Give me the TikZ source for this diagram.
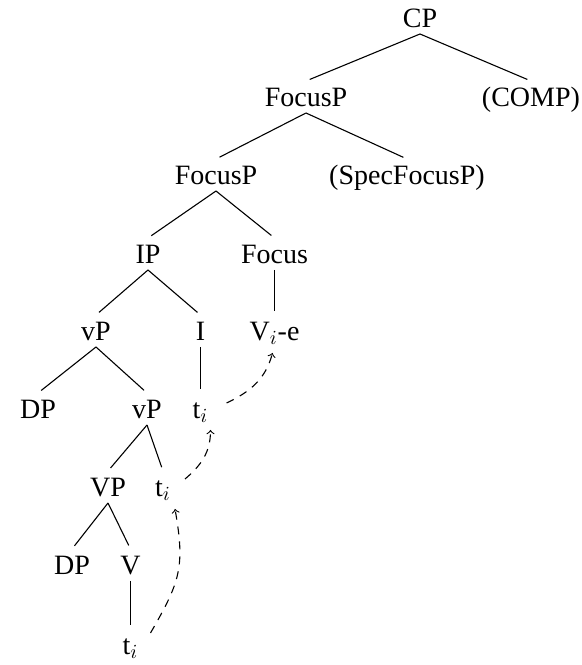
\documentclass[tikz,border=0pt]{standalone}
\usepackage{fontspec}
\setmainfont{Liberation Serif}

\begin{document}
\begin{tikzpicture}[x=0.5pt, y=0.5pt,
		lbl/.style={font=\fontsize{14}{17}\selectfont, text height=10.2pt, text depth=1pt, inner xsep=1pt, inner ysep=2.2pt},
		branch/.style={line width=0.55pt, shorten >=2pt},
		move/.style={->, line width=0.55pt, dash pattern=on 4pt off 3.5pt}]
		
		\useasboundingbox (0, 0) rectangle (582, 665);
		
		% CP and the two FocusP levels
		\node[lbl] (cp) at (420, 647) {CP};
		\node[lbl] (fp1) at (306, 568) {FocusP};
		\node[lbl] (comp) at (531, 568) {(COMP)};
		\node[lbl] (fp2) at (216, 490) {FocusP};
		\node[lbl] (spec) at (407, 490) {(SpecFocusP)};
		\draw[branch] (cp.south) -- (fp1.north);
		\draw[branch] (cp.south) -- (comp.north);
		\draw[branch] (fp1.south) -- (fp2.north);
		\draw[branch] (fp1.south) -- (spec.north);
		
		% IP and Focus
		\node[lbl] (ip) at (148, 411) {IP};
		\node[lbl] (foc) at (274.5, 411) {Focus};
		\node[lbl] (vp1) at (96, 334) {vP};
		\node[lbl] (infl) at (200.5, 334) {I};
		\node[lbl] (ve) at (274.5, 334) {V$_i$-e};
		\draw[branch] (fp2.south) -- (ip.north);
		\draw[branch] (fp2.south) -- (foc.north);
		\draw[branch] (ip.south) -- (vp1.north);
		\draw[branch] (ip.south) -- (infl.north);
		\draw[branch] (foc.south) -- (ve.north);
		
		% vP shell
		\node[lbl] (dp1) at (38, 256) {DP};
		\node[lbl] (vp2) at (147, 256) {vP};
		\node[lbl] (t1) at (200.5, 256) {t$_i$};
		\draw[branch] (vp1.south) -- (dp1.north);
		\draw[branch] (vp1.south) -- (vp2.north);
		\draw[branch] (infl.south) -- (t1.north);
		
		% VP
		\node[lbl] (vpp) at (108, 178) {VP};
		\node[lbl] (t2) at (163, 178) {t$_i$};
		\node[lbl] (dp2) at (72, 100) {DP};
		\node[lbl] (verb) at (130.5, 100) {V};
		\node[lbl] (t3) at (130.5, 20) {t$_i$};
		\draw[branch] (vp2.south) -- (vpp.north);
		\draw[branch] (vp2.south) -- (t2.north);
		\draw[branch] (vpp.south) -- (dp2.north);
		\draw[branch] (vpp.south) -- (verb.north);
		\draw[branch] (verb.south) -- (t3.north);
		
		% head movement
		\draw[move] ([shift={(20, 12)}]t3.center) to[out=60, in=-80, looseness=1.2] ([shift={(12, -22)}]t2.center);
		\draw[move] ([shift={(22, 8)}]t2.center) to[out=40, in=-90] ([shift={(10, -21)}]t1.center);
		\draw[move] ([shift={(26, 6)}]t1.center) to[out=25, in=-105] ([shift={(-2, -22)}]ve.center);
		
	\end{tikzpicture}
\end{document}
